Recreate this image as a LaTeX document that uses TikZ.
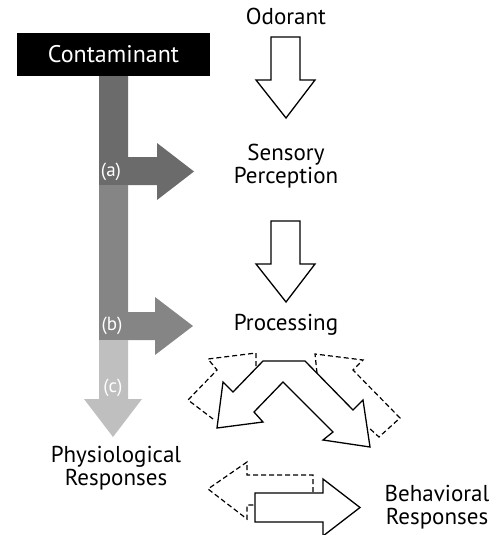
\documentclass[tikz,border=0pt]{standalone}
\usepackage{fontspec}
\setmainfont{PT Sans}
\begin{document}
\begin{tikzpicture}[x=1pt,y=-1pt,
    label/.style={font=\fontsize{23}{23.5}\selectfont,align=center,inner sep=0pt},
    tag/.style={font=\fontsize{19}{21}\selectfont,text=white,inner sep=0pt},
    hollow/.style={draw=black,line width=1.3pt,fill=white,line join=miter},
    ghost/.style={draw=black,line width=1.2pt,dashed,dash pattern=on 5pt off 3pt}]
      \useasboundingbox (0,0) rectangle (497,535);
      % nodes
      \node[fill=black,text=white,minimum width=193pt,minimum height=43pt,inner sep=0pt,
        font=\fontsize{24}{26}\selectfont] (contaminant) at (113.5,54.5) {Contaminant};
      \draw
        (286,16) node[label] (odorant){Odorant}
        (286,166) node[label] (sensory){Sensory\\Perception}
        (286,325) node[label] (processing){Processing}
        (116,468) node[label] (physio){Physiological\\Responses}
        (437,507) node[label] (behav){Behavioral\\Responses};
      % grey path of the contaminant
      \fill[black!58] (99,76) -- (128,76) -- (128,157) -- (157,157) -- (157,143) -- (194,171.5)
        -- (157,200) -- (157,185) -- (99,185) -- cycle;
      \fill[black!48] (99,185) -- (128,185) -- (128,312) -- (155,312) -- (155,297) -- (193,326)
        -- (155,355) -- (155,340) -- (99,340) -- cycle;
      \fill[black!25] (99,340) -- (128,340) -- (128,399) -- (142,399) -- (113,437)
        -- (84,399) -- (99,399) -- cycle;
      \node[tag] (a) at (111,172) {(a)};
      \node[tag] (b) at (112,326) {(b)};
      \node[tag] (c) at (113,388) {(c)};
      % odorant path
      \begin{scope}[hollow]
        \draw (271,37) -- (300,37) -- (300,80) -- (315,80) -- (286,118) -- (256,80) -- (271,80) -- cycle;
        \draw (271,221) -- (300,221) -- (300,264) -- (315,264) -- (286,302) -- (256,264) -- (271,264) -- cycle;
      \end{scope}
      % alternatives
      \begin{scope}[ghost]
        \draw (256,366) -- (256,353) -- (208,359) -- (217,370) -- (188,400) -- (213,419);
        \draw (317,373) -- (315,354) -- (363,360) -- (353,370) -- (400,418) -- (379,437) -- (368,427);
        \draw (313,492) -- (313,475) -- (247,475) -- (247,462) -- (208,489) -- (247,519) -- (247,505) -- (255,505);
      \end{scope}
      \begin{scope}[hollow]
        \draw (263,361) -- (305,361) -- (353,410) -- (363,400) -- (370,447) -- (323,440) -- (333,432)
          -- (283,382) -- (254,412) -- (263,422) -- (217,428) -- (223,382) -- (233,392) -- cycle;
        \draw (255,493) -- (323,493) -- (323,479) -- (360,507.5) -- (323,536) -- (323,522) -- (255,522) -- cycle;
      \end{scope}
    \end{tikzpicture}
\end{document}
